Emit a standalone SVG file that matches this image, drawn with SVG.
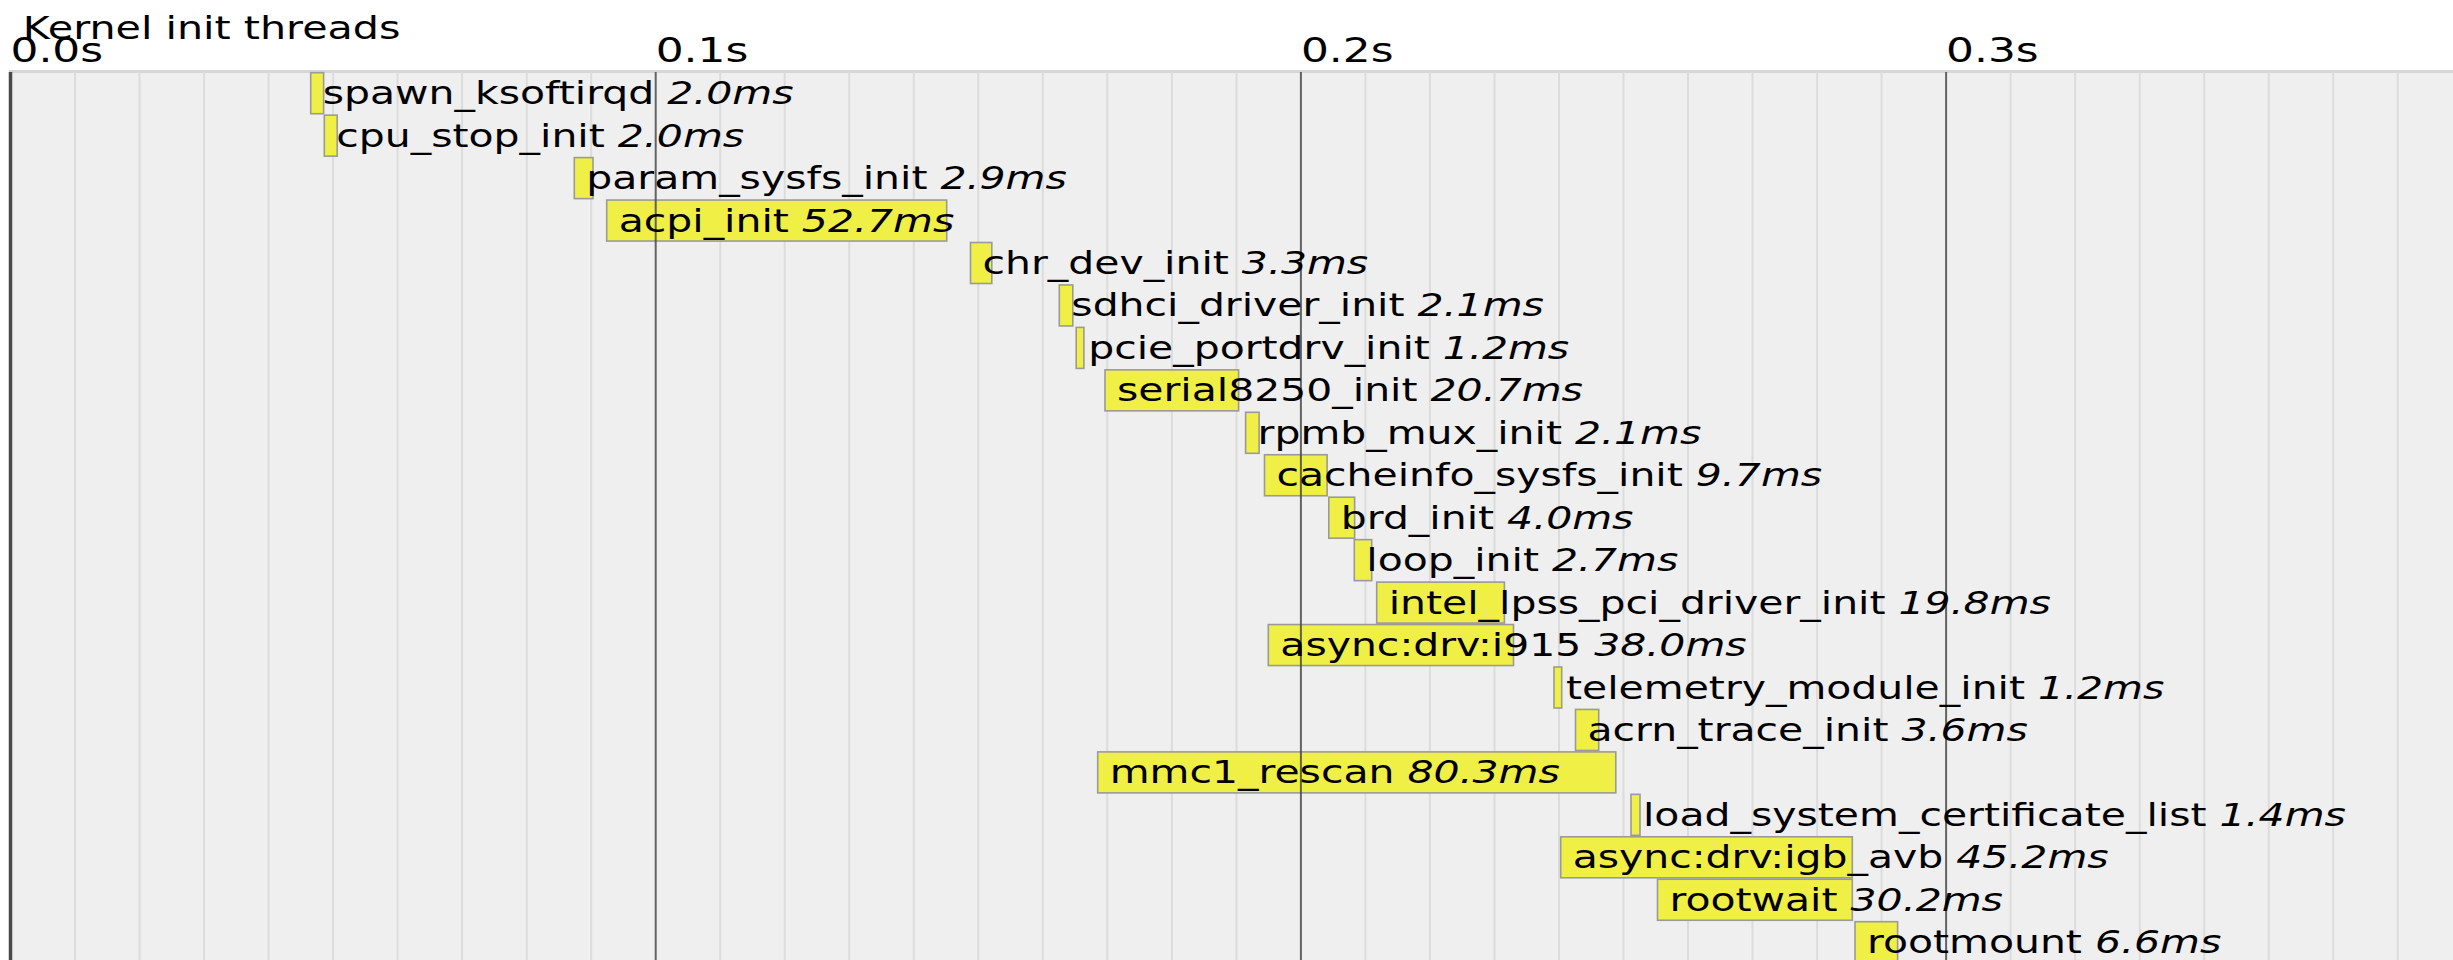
<svg xmlns="http://www.w3.org/2000/svg" width="2453" height="960" viewBox="0 0 2453 960">
<style>
.t{font-family:"DejaVu Sans","Verdana",sans-serif;font-size:31.5px;fill:#000}
.tk{font-family:"DejaVu Sans","Verdana",sans-serif;font-size:34px;fill:#000}
.it{font-style:italic}
.bar{fill:#f0ef45;stroke:#9a9a9a;stroke-width:1.6}
.minor{stroke:#dcdcdc;stroke-width:2;fill:none}
.major{stroke:#4a4a4a;stroke-width:2;fill:none;opacity:0.85}
</style>
<rect x="0" y="0" width="2453" height="960" fill="#fff"/>
<g id="chart-bg">
<rect x="9" y="70" width="2444" height="890" fill="#efefef"/>
<rect x="9" y="70" width="2444" height="3" fill="#d6d6d6"/>
<path class="minor" d="M75,72V960M139.5,72V960M204.1,72V960M268.6,72V960M333.1,72V960M397.6,72V960M462.1,72V960M526.7,72V960M591.2,72V960M720.2,72V960M784.7,72V960M849.3,72V960M913.8,72V960M978.3,72V960M1042.8,72V960M1107.3,72V960M1171.9,72V960M1236.4,72V960M1365.4,72V960M1429.9,72V960M1494.5,72V960M1559,72V960M1623.5,72V960M1688,72V960M1752.5,72V960M1817.1,72V960M1881.6,72V960M2010.6,72V960M2075.1,72V960M2139.7,72V960M2204.2,72V960M2268.7,72V960M2333.2,72V960M2397.7,72V960"/>
</g>
<g id="bars">
<rect class="bar" x="310.7" y="72.7" width="12.9" height="41"/>
<rect class="bar" x="324.3" y="115.15" width="12.9" height="41"/>
<rect class="bar" x="574.3" y="157.6" width="18.7" height="41"/>
<rect class="bar" x="606.7" y="200.05" width="340" height="41"/>
<rect class="bar" x="970.5" y="242.5" width="21.3" height="41"/>
<rect class="bar" x="1059.3" y="284.95" width="13.5" height="41"/>
<rect class="bar" x="1076.2" y="327.4" width="7.7" height="41"/>
<rect class="bar" x="1105" y="369.85" width="133.6" height="41"/>
<rect class="bar" x="1245.6" y="412.3" width="13.5" height="41"/>
<rect class="bar" x="1264.5" y="454.75" width="62.6" height="41"/>
<rect class="bar" x="1328.8" y="497.2" width="25.8" height="41"/>
<rect class="bar" x="1354.3" y="539.65" width="17.4" height="41"/>
<rect class="bar" x="1376.7" y="582.1" width="127.7" height="41"/>
<rect class="bar" x="1268.3" y="624.55" width="245.2" height="41"/>
<rect class="bar" x="1554" y="667" width="7.7" height="41"/>
<rect class="bar" x="1575.5" y="709.45" width="23.2" height="41"/>
<rect class="bar" x="1097.7" y="751.9" width="518.1" height="41"/>
<rect class="bar" x="1631" y="794.35" width="9" height="41"/>
<rect class="bar" x="1560.7" y="836.8" width="291.6" height="41"/>
<rect class="bar" x="1657.5" y="879.25" width="194.8" height="41"/>
<rect class="bar" x="1855" y="921.7" width="42.6" height="41"/>
</g>
<g id="axis">
<line x1="10.5" y1="72" x2="10.5" y2="960" stroke="#4a4a4a" stroke-width="3.5"/>
<path class="major" d="M655.7,72V960M1300.9,72V960M1946.1,72V960"/>
</g>
<g id="title"><text class="t" transform="translate(22.8 39) scale(1.31 1)">Kernel init threads</text></g>
<g id="ticks">
<text class="tk" transform="translate(10.5 62) scale(1.29 1)">0.0s</text>
<text class="tk" transform="translate(655.7 62) scale(1.29 1)">0.1s</text>
<text class="tk" transform="translate(1300.9 62) scale(1.29 1)">0.2s</text>
<text class="tk" transform="translate(1946.1 62) scale(1.29 1)">0.3s</text>
</g>
<g id="labels">
<g id="n0"><text class="t" transform="translate(322.7 104.2) scale(1.3 1)">spawn_ksoftirqd <tspan class="it">2.0ms</tspan></text></g>
<g id="n1"><text class="t" transform="translate(336.3 146.65) scale(1.3 1)">cpu_stop_init <tspan class="it">2.0ms</tspan></text></g>
<g id="n2"><text class="t" transform="translate(586.3 189.1) scale(1.3 1)">param_sysfs_init <tspan class="it">2.9ms</tspan></text></g>
<g id="n3"><text class="t" transform="translate(618.7 231.55) scale(1.3 1)">acpi_init <tspan class="it">52.7ms</tspan></text></g>
<g id="n4"><text class="t" transform="translate(982.5 274) scale(1.3 1)">chr_dev_init <tspan class="it">3.3ms</tspan></text></g>
<g id="n5"><text class="t" transform="translate(1071.3 316.45) scale(1.3 1)">sdhci_driver_init <tspan class="it">2.1ms</tspan></text></g>
<g id="n6"><text class="t" transform="translate(1088.2 358.9) scale(1.3 1)">pcie_portdrv_init <tspan class="it">1.2ms</tspan></text></g>
<g id="n7"><text class="t" transform="translate(1117 401.35) scale(1.3 1)">serial8250_init <tspan class="it">20.7ms</tspan></text></g>
<g id="n8"><text class="t" transform="translate(1257.6 443.8) scale(1.3 1)">rpmb_mux_init <tspan class="it">2.1ms</tspan></text></g>
<g id="n9"><text class="t" transform="translate(1276.5 486.25) scale(1.3 1)">cacheinfo_sysfs_init <tspan class="it">9.7ms</tspan></text></g>
<g id="n10"><text class="t" transform="translate(1340.8 528.7) scale(1.3 1)">brd_init <tspan class="it">4.0ms</tspan></text></g>
<g id="n11"><text class="t" transform="translate(1366.3 571.15) scale(1.3 1)">loop_init <tspan class="it">2.7ms</tspan></text></g>
<g id="n12"><text class="t" transform="translate(1388.7 613.6) scale(1.3 1)">intel_lpss_pci_driver_init <tspan class="it">19.8ms</tspan></text></g>
<g id="n13"><text class="t" transform="translate(1280.3 656.05) scale(1.3 1)">async:drv:i915 <tspan class="it">38.0ms</tspan></text></g>
<g id="n14"><text class="t" transform="translate(1566 698.5) scale(1.3 1)">telemetry_module_init <tspan class="it">1.2ms</tspan></text></g>
<g id="n15"><text class="t" transform="translate(1587.5 740.95) scale(1.3 1)">acrn_trace_init <tspan class="it">3.6ms</tspan></text></g>
<g id="n16"><text class="t" transform="translate(1109.7 783.4) scale(1.3 1)">mmc1_rescan <tspan class="it">80.3ms</tspan></text></g>
<g id="n17"><text class="t" transform="translate(1643 825.85) scale(1.3 1)">load_system_certificate_list <tspan class="it">1.4ms</tspan></text></g>
<g id="n18"><text class="t" transform="translate(1572.7 868.3) scale(1.3 1)">async:drv:igb_avb <tspan class="it">45.2ms</tspan></text></g>
<g id="n19"><text class="t" transform="translate(1669.5 910.75) scale(1.3 1)">rootwait <tspan class="it">30.2ms</tspan></text></g>
<g id="n20"><text class="t" transform="translate(1867 953.2) scale(1.3 1)">rootmount <tspan class="it">6.6ms</tspan></text></g>
</g>
</svg>
